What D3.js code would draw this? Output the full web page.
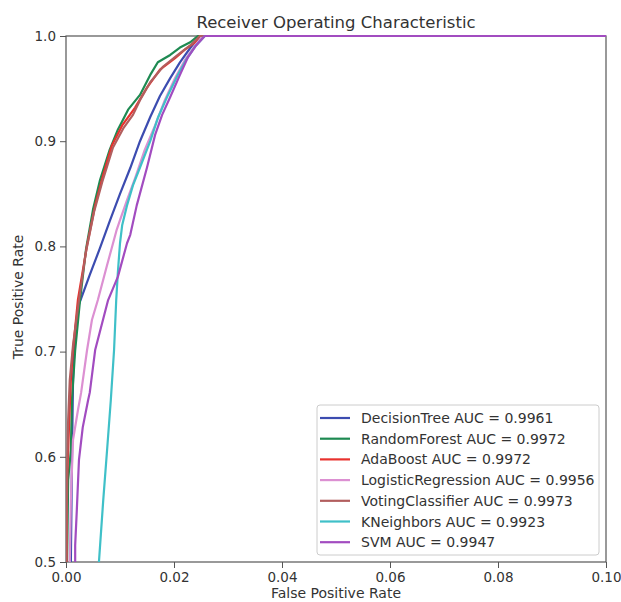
<!DOCTYPE html>
<html>
<head>
<meta charset="utf-8">
<script src="https://cdn.jsdelivr.net/npm/d3@7"></script>
<style>
  html, body { margin: 0; padding: 0; background: #fff; }
  text { font-family: "DejaVu Sans", sans-serif; fill: #333; }
</style>
</head>
<body>
<svg id="chart" width="621" height="602"></svg>
<script>
// ---- data ----
const models = ["DecisionTree", "RandomForest", "AdaBoost", "LogisticRegression", "VotingClassifier", "KNeighbors", "SVM"];
const aucs = ["0.9961", "0.9972", "0.9972", "0.9956", "0.9973", "0.9923", "0.9947"];
const colors = ["#3c4cb0", "#1e8a52", "#e8322e", "#dc90d2", "#b25e5e", "#3fc0c8", "#a24cc0"];

const fprDecisionTree = [0, 0.0009, 0.0011, 0.0013, 0.0017, 0.0024, 0.0044, 0.0063, 0.0081, 0.01, 0.0119, 0.0137, 0.0156, 0.0174, 0.0193, 0.0211, 0.023, 0.0248, 0.1];
const tprDecisionTree = [0, 0.5, 0.597, 0.673, 0.72, 0.745, 0.773, 0.7985, 0.824, 0.850, 0.8745, 0.900, 0.923, 0.943, 0.960, 0.975, 0.9886, 1.0, 1.0];

const fprRandomForest = [0, 0.0002, 0.0004, 0.0009, 0.0011, 0.0017, 0.0026, 0.0037, 0.005, 0.0063, 0.0081, 0.0096, 0.0115, 0.0137, 0.0156, 0.017, 0.0193, 0.0211, 0.023, 0.0244, 0.1];
const tprRandomForest = [0, 0.5, 0.578, 0.606, 0.654, 0.7015, 0.749, 0.797, 0.835, 0.863, 0.892, 0.911, 0.930, 0.944, 0.963, 0.975, 0.982, 0.989, 0.994, 1.0, 1.0];

const fprAdaBoost = [0, 0.0001, 0.0002, 0.0006, 0.0009, 0.0013, 0.0022, 0.0039, 0.0054, 0.0069, 0.0085, 0.0104, 0.0128, 0.015, 0.0174, 0.0202, 0.022, 0.0239, 0.0248, 0.1];
const tprAdaBoost = [0, 0.5, 0.578, 0.635, 0.673, 0.7015, 0.749, 0.801, 0.839, 0.868, 0.896, 0.915, 0.932, 0.951, 0.968, 0.979, 0.987, 0.994, 1.0, 1.0];

const fprLogisticRegression = [0, 0.0007, 0.0009, 0.0013, 0.0022, 0.0028, 0.0039, 0.0048, 0.0059, 0.0076, 0.0094, 0.01, 0.0113, 0.0128, 0.0146, 0.0165, 0.0183, 0.0202, 0.022, 0.0239, 0.0254, 0.1];
const tprLogisticRegression = [0, 0.5, 0.559, 0.616, 0.644, 0.661, 0.7015, 0.73, 0.749, 0.782, 0.816, 0.825, 0.844, 0.865, 0.892, 0.915, 0.939, 0.96, 0.977, 0.991, 1.0, 1.0];

const fprVotingClassifier = [0, 0.0001, 0.0002, 0.0004, 0.0007, 0.0013, 0.0024, 0.0037, 0.0052, 0.0067, 0.0087, 0.0107, 0.0124, 0.0137, 0.0156, 0.018, 0.0207, 0.023, 0.0248, 0.1];
const tprVotingClassifier = [0, 0.5, 0.587, 0.635, 0.673, 0.706, 0.749, 0.795, 0.833, 0.861, 0.894, 0.913, 0.925, 0.939, 0.956, 0.971, 0.982, 0.991, 1.0, 1.0];

const fprKNeighbors = [0, 0.0061, 0.0069, 0.0076, 0.0083, 0.0089, 0.0093, 0.0096, 0.01, 0.0104, 0.0113, 0.0124, 0.0137, 0.0156, 0.017, 0.0189, 0.0207, 0.0222, 0.0239, 0.0257, 0.1];
const tprKNeighbors = [0, 0.5, 0.559, 0.606, 0.654, 0.7015, 0.749, 0.775, 0.803, 0.820, 0.839, 0.858, 0.875, 0.9, 0.922, 0.944, 0.963, 0.977, 0.99, 1.0, 1.0];

const fprSVM = [0, 0.0017, 0.0017, 0.002, 0.0024, 0.0031, 0.0041, 0.0044, 0.0054, 0.0078, 0.0096, 0.0113, 0.0119, 0.0131, 0.015, 0.0165, 0.0178, 0.0193, 0.0211, 0.0226, 0.0241, 0.0257, 0.1];
const tprSVM = [0, 0.5, 0.516, 0.549, 0.597, 0.628, 0.654, 0.661, 0.7015, 0.749, 0.771, 0.803, 0.811, 0.839, 0.875, 0.906, 0.925, 0.942, 0.963, 0.98, 0.991, 1.0, 1.0];

const fprs = [fprDecisionTree, fprRandomForest, fprAdaBoost, fprLogisticRegression, fprVotingClassifier, fprKNeighbors, fprSVM];
const tprs = [tprDecisionTree, tprRandomForest, tprAdaBoost, tprLogisticRegression, tprVotingClassifier, tprKNeighbors, tprSVM];

const xTicks = [0.00, 0.02, 0.04, 0.06, 0.08, 0.10];
const yTicks = [0.5, 0.6, 0.7, 0.8, 0.9, 1.0];

// ---- layout ----
const svg = d3.select("#chart");
const mLeft = 66, mRight = 606, mTop = 36, mBottom = 562;

const x = d3.scaleLinear().domain([0, 0.1]).range([mLeft, mRight]);
const y = d3.scaleLinear().domain([0.5, 1.0]).range([mBottom, mTop]);

svg.append("defs").append("clipPath").attr("id", "clip")
  .append("rect").attr("x", mLeft).attr("y", mTop - 2).attr("width", mRight - mLeft).attr("height", mBottom - mTop + 2);

// axes
const xAxis = svg.append("g").attr("transform", `translate(0,${mBottom})`)
  .call(d3.axisBottom(x).tickValues(xTicks).tickFormat(d3.format(".2f")).tickSize(6).tickPadding(4));
const yAxis = svg.append("g").attr("transform", `translate(${mLeft},0)`)
  .call(d3.axisLeft(y).tickValues(yTicks).tickFormat(d3.format(".1f")).tickSize(6).tickPadding(4));
[xAxis, yAxis].forEach(g => {
  g.select(".domain").remove();
  g.selectAll(".tick line").attr("stroke", "#555");
  g.selectAll(".tick text").attr("font-size", 13.5).attr("fill", "#333").style("font-family", "DejaVu Sans");
});

// spines
svg.append("rect").attr("x", mLeft).attr("y", mTop).attr("width", mRight - mLeft).attr("height", mBottom - mTop)
  .attr("fill", "none").attr("stroke", "#555").attr("stroke-width", 1.2);

// lines
const line = d3.line().x(d => x(d[0])).y(d => y(d[1]));
const plot = svg.append("g").attr("clip-path", "url(#clip)");
models.forEach((m, i) => {
  const pts = fprs[i].map((f, j) => [f, tprs[i][j]]);
  plot.append("path").datum(pts).attr("d", line)
    .attr("fill", "none").attr("stroke", colors[i]).attr("stroke-width", 2.2)
    .attr("stroke-linejoin", "round");
});

// title & labels
svg.append("text").attr("x", (mLeft + mRight) / 2).attr("y", 28).attr("text-anchor", "middle")
  .attr("font-size", 16.5).text("Receiver Operating Characteristic");
svg.append("text").attr("x", (mLeft + mRight) / 2).attr("y", 598).attr("text-anchor", "middle")
  .attr("font-size", 14).text("False Positive Rate");
svg.append("text").attr("transform", `translate(23,${(mTop + mBottom) / 2 - 2}) rotate(-90)`).attr("text-anchor", "middle")
  .attr("font-size", 14).text("True Positive Rate");

// legend
const lg = svg.append("g");
lg.append("rect").attr("x", 317).attr("y", 405).attr("width", 282).attr("height", 150)
  .attr("rx", 3).attr("fill", "#fff").attr("fill-opacity", 0.9).attr("stroke", "#ccc");
models.forEach((m, i) => {
  const yy = 418 + i * 20.7;
  lg.append("line").attr("x1", 320).attr("x2", 350).attr("y1", yy).attr("y2", yy)
    .attr("stroke", colors[i]).attr("stroke-width", 2.2);
  lg.append("text").attr("x", 361).attr("y", yy + 5).attr("font-size", 14)
    .text(`${m} AUC = ${aucs[i]}`);
});
</script>
</body>
</html>
